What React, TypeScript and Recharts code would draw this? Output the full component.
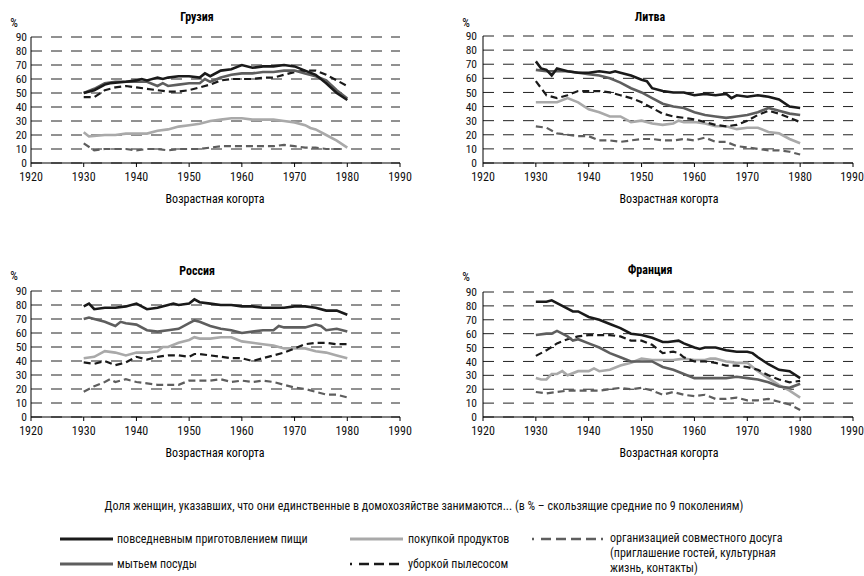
import React from "react";
import { CartesianGrid, Line, LineChart, XAxis, YAxis } from "recharts";

type Pt = [number, number];

const YEAR_TICKS = [1920, 1930, 1940, 1950, 1960, 1970, 1980, 1990];
const PCT_TICKS = [0, 10, 20, 30, 40, 50, 60, 70, 80, 90];

const SERIES_NAMES = [
  "повседневным приготовлением пищи",
  "мытьем посуды",
  "покупкой продуктов",
  "уборкой пылесосом",
  "организацией совместного досуга (приглашение гостей, культурная жизнь, контакты)",
];

// Грузия
const GEO_COOK: Pt[] = [[1930,50],[1932,52],[1934,56],[1935,57],[1938,58],[1940,59],[1941,60],[1942,59],[1944,61],[1945,60],[1946,61],[1948,62],[1950,62],[1952,61],[1953,64],[1954,62],[1956,66],[1958,67],[1960,70],[1962,68],[1964,69],[1966,69],[1968,70],[1970,69],[1972,66],[1974,63],[1976,57],[1978,50],[1980,45]];
const GEO_DISH: Pt[] = [[1930,50],[1932,53],[1934,57],[1936,58],[1938,58],[1940,58],[1942,58],[1944,55],[1945,57],[1946,55],[1948,56],[1950,57],[1952,57],[1953,60],[1954,58],[1956,61],[1958,63],[1960,64],[1962,64],[1964,65],[1966,65],[1968,66],[1970,66],[1972,64],[1974,62],[1976,59],[1978,52],[1980,46]];
const GEO_SHOP: Pt[] = [[1930,22],[1931,19],[1934,20],[1936,20],[1938,21],[1940,21],[1942,21],[1944,23],[1946,24],[1948,26],[1950,27],[1952,28],[1954,30],[1956,31],[1958,32],[1960,32],[1962,31],[1964,31],[1966,31],[1968,30],[1970,29],[1972,27],[1973,25],[1974,24],[1976,20],[1978,16],[1980,11]];
const GEO_VAC: Pt[] = [[1930,47],[1932,47],[1934,52],[1936,54],[1938,55],[1940,54],[1942,53],[1944,52],[1946,51],[1948,51],[1950,52],[1952,54],[1954,56],[1956,59],[1958,60],[1960,60],[1962,60],[1964,61],[1966,61],[1968,63],[1970,65],[1972,66],[1974,66],[1976,63],[1978,59],[1980,55]];
const GEO_LEIS: Pt[] = [[1930,14],[1932,9],[1934,10],[1936,10],[1938,10],[1940,9],[1942,10],[1944,10],[1946,9],[1948,10],[1950,10],[1952,10],[1954,11],[1956,12],[1958,12],[1960,12],[1962,12],[1964,12],[1966,12],[1968,13],[1970,12],[1972,11],[1974,11],[1976,10],[1979,10]];

// Литва
const LIT_COOK: Pt[] = [[1930,72],[1931,67],[1932,66],[1933,62],[1934,67],[1936,65],[1938,64],[1940,64],[1942,65],[1944,64],[1945,65],[1946,64],[1948,62],[1950,59],[1951,58],[1952,53],[1954,51],[1956,50],[1958,50],[1960,48],[1962,49],[1964,48],[1966,49],[1967,46],[1968,48],[1970,47],[1972,48],[1974,47],[1976,45],[1978,40],[1980,39]];
const LIT_DISH: Pt[] = [[1930,66],[1932,65],[1934,65],[1936,65],[1938,64],[1940,63],[1942,62],[1944,60],[1946,57],[1948,53],[1950,50],[1952,46],[1954,42],[1956,40],[1958,39],[1960,36],[1962,34],[1964,33],[1966,32],[1968,33],[1970,34],[1972,36],[1974,39],[1976,37],[1978,35],[1980,34]];
const LIT_SHOP: Pt[] = [[1930,43],[1932,43],[1934,43],[1936,46],[1938,43],[1940,38],[1942,36],[1944,33],[1946,33],[1948,29],[1950,30],[1952,28],[1954,27],[1956,28],[1957,30],[1958,29],[1960,29],[1962,28],[1964,26],[1966,26],[1968,24],[1970,25],[1972,25],[1974,22],[1976,21],[1978,17],[1980,14]];
const LIT_VAC: Pt[] = [[1930,58],[1932,48],[1934,46],[1936,48],[1938,51],[1940,51],[1942,51],[1944,50],[1946,48],[1948,46],[1950,43],[1952,39],[1954,35],[1956,33],[1958,32],[1960,31],[1962,29],[1964,27],[1966,26],[1968,27],[1970,30],[1972,34],[1974,37],[1976,35],[1978,32],[1980,29]];
const LIT_LEIS: Pt[] = [[1930,26],[1932,25],[1934,21],[1936,20],[1938,19],[1940,19],[1942,16],[1944,16],[1946,15],[1948,16],[1950,17],[1952,17],[1954,16],[1956,16],[1958,17],[1960,16],[1962,18],[1964,15],[1966,15],[1968,12],[1970,11],[1972,10],[1974,9],[1976,9],[1978,8],[1980,6]];

// Россия
const RUS_COOK: Pt[] = [[1930,79],[1931,81],[1932,77],[1934,78],[1936,78],[1938,79],[1940,81],[1942,77],[1944,78],[1946,80],[1947,81],[1948,80],[1950,81],[1951,84],[1952,82],[1954,81],[1956,80],[1958,80],[1960,79],[1962,79],[1964,78],[1966,78],[1968,78],[1970,79],[1972,79],[1974,78],[1976,76],[1978,76],[1980,73]];
const RUS_DISH: Pt[] = [[1930,70],[1931,71],[1932,70],[1934,68],[1936,65],[1937,68],[1938,67],[1940,66],[1942,62],[1944,61],[1946,62],[1948,63],[1950,67],[1951,69],[1952,68],[1954,65],[1956,63],[1958,62],[1960,60],[1962,61],[1964,62],[1966,62],[1967,65],[1968,64],[1970,64],[1972,64],[1974,66],[1975,65],[1976,62],[1978,63],[1980,61]];
const RUS_SHOP: Pt[] = [[1930,42],[1932,43],[1934,47],[1936,46],[1938,44],[1940,46],[1942,46],[1944,47],[1945,50],[1946,50],[1948,53],[1950,55],[1951,57],[1952,56],[1954,56],[1956,57],[1958,57],[1960,54],[1962,53],[1964,52],[1966,51],[1968,49],[1970,49],[1972,49],[1974,47],[1976,46],[1978,44],[1980,42]];
const RUS_VAC: Pt[] = [[1930,39],[1932,38],[1934,40],[1936,37],[1938,39],[1940,43],[1942,41],[1944,43],[1946,44],[1948,44],[1950,43],[1951,45],[1952,45],[1954,44],[1956,43],[1958,42],[1960,42],[1962,40],[1964,42],[1966,44],[1968,46],[1970,49],[1972,52],[1974,53],[1976,53],[1978,52],[1980,52]];
const RUS_LEIS: Pt[] = [[1930,18],[1932,22],[1934,25],[1935,27],[1936,25],[1938,27],[1940,25],[1942,24],[1944,23],[1946,23],[1948,23],[1950,26],[1952,26],[1954,26],[1956,27],[1958,25],[1960,26],[1962,25],[1964,26],[1966,25],[1968,23],[1970,21],[1972,20],[1974,18],[1976,16],[1978,16],[1980,14]];

// Франция
const FRA_COOK: Pt[] = [[1930,83],[1932,83],[1933,84],[1934,82],[1936,78],[1937,76],[1938,76],[1940,72],[1942,70],[1944,67],[1946,64],[1948,60],[1950,59],[1952,57],[1954,54],[1955,54],[1957,55],[1958,53],[1960,50],[1961,49],[1962,50],[1964,50],[1966,48],[1968,47],[1970,47],[1971,46],[1972,43],[1974,38],[1976,34],[1978,33],[1980,28]];
const FRA_DISH: Pt[] = [[1930,59],[1932,60],[1933,60],[1934,62],[1936,58],[1937,55],[1938,56],[1940,53],[1942,50],[1944,46],[1946,43],[1948,40],[1950,40],[1952,40],[1954,36],[1956,34],[1958,31],[1960,28],[1962,28],[1964,28],[1966,28],[1968,29],[1970,28],[1972,27],[1974,25],[1976,22],[1978,21],[1980,24]];
const FRA_SHOP: Pt[] = [[1930,28],[1931,27],[1932,27],[1933,31],[1934,31],[1935,33],[1936,30],[1938,33],[1940,33],[1941,35],[1942,33],[1944,34],[1946,37],[1948,39],[1950,42],[1952,41],[1954,41],[1956,41],[1958,42],[1960,41],[1962,41],[1963,42],[1964,42],[1966,40],[1968,39],[1970,39],[1972,33],[1974,28],[1976,23],[1978,19],[1980,14]];
const FRA_VAC: Pt[] = [[1930,44],[1932,48],[1934,53],[1936,56],[1938,58],[1940,59],[1942,59],[1944,59],[1946,58],[1948,55],[1950,55],[1952,52],[1954,46],[1956,47],[1957,46],[1958,43],[1960,40],[1962,40],[1964,39],[1966,37],[1968,37],[1970,36],[1972,34],[1974,30],[1976,27],[1978,25],[1980,26]];
const FRA_LEIS: Pt[] = [[1930,18],[1932,17],[1934,18],[1936,19],[1938,19],[1940,19],[1942,19],[1944,20],[1946,21],[1948,20],[1950,21],[1952,19],[1954,16],[1956,18],[1958,16],[1960,15],[1962,16],[1964,13],[1966,13],[1968,14],[1970,12],[1972,12],[1974,13],[1976,11],[1978,9],[1980,5]];

const FONT = "'Liberation Sans Narrow', 'Arial Narrow', 'Roboto Condensed', 'Liberation Sans', sans-serif";

// series styles: cooking, dishes, shopping, vacuum, leisure
const STYLES = [
  { color: "#1a1a1a", width: 2.6, dash: undefined as string | undefined },
  { color: "#5e5e5e", width: 2.6, dash: undefined as string | undefined },
  { color: "#a9a9a9", width: 2.6, dash: undefined as string | undefined },
  { color: "#1a1a1a", width: 2.2, dash: "7 4" },
  { color: "#5e5e5e", width: 2.2, dash: "7 4" },
];

const toRows = (pts: Pt[]) => pts.map(([year, v]) => ({ year, v }));

interface PanelProps {
  title: string;
  left: number;
  top: number;
  yAxisWidth: number;
  right: number;
  plotTop: number;
  bottom: number;
  tickGap: number;
  titleX: number;
  titleY: number;
  pctX: number;
  pctY: number;
  labelX: number;
  labelY: number;
  series: Pt[][]; // cooking, dishes, shopping, vacuum, leisure
}

function Panel(p: PanelProps) {
  const drawOrder = [4, 2, 3, 1, 0];
  return (
    <>
      <div
        style={{
          position: "absolute",
          left: p.titleX,
          top: p.titleY,
          transform: "translate(-50%, -50%)",
          fontFamily: FONT,
          fontWeight: "bold",
          fontSize: 12,
          whiteSpace: "nowrap",
        }}
      >
        {p.title}
      </div>
      <div
        style={{
          position: "absolute",
          left: p.pctX,
          top: p.pctY,
          transform: "translate(-50%, -50%)",
          fontFamily: FONT,
          fontSize: 12,
        }}
      >
        %
      </div>
      <div
        style={{
          position: "absolute",
          left: p.labelX,
          top: p.labelY,
          transform: "translate(-50%, -50%)",
          fontFamily: FONT,
          fontSize: 12,
          whiteSpace: "nowrap",
        }}
      >
        Возрастная когорта
      </div>
      <div style={{ position: "absolute", left: p.left, top: p.top }}>
        <LineChart
          width={432}
          height={210}
          margin={{ top: p.plotTop, right: p.right, left: 0, bottom: p.bottom }}
        >
          <CartesianGrid
            vertical={false}
            stroke="#222"
            strokeDasharray="11 9"
            strokeWidth={1}
          />
          <XAxis
            type="number"
            dataKey="year"
            domain={[1920, 1990]}
            ticks={YEAR_TICKS}
            allowDuplicatedCategory={false}
            height={20}
            stroke="#000"
            tickSize={4}
            tick={{ fill: "#111", fontSize: 12, fontFamily: FONT }}
            tickMargin={5}
          />
          <YAxis
            type="number"
            domain={[0, 90]}
            ticks={PCT_TICKS}
            width={p.yAxisWidth}
            stroke="#000"
            tickLine={false}
            tickSize={0}
            tickMargin={p.tickGap}
            tick={{ fill: "#111", fontSize: 11.5, fontFamily: FONT }}
            interval={0}
          />
          {drawOrder.map((i) => (
            <Line
              key={i}
              data={toRows(p.series[i])}
              dataKey="v"
              name={SERIES_NAMES[i]}
              type="linear"
              stroke={STYLES[i].color}
              strokeWidth={STYLES[i].width}
              strokeDasharray={STYLES[i].dash}
              dot={false}
              activeDot={false}
              isAnimationActive={false}
            />
          ))}
        </LineChart>
      </div>
    </>
  );
}

function LegendLine({ x, y, i, w }: { x: number; y: number; i: number; w: number }) {
  const s = STYLES[i];
  const dash = s.dash ? "2 7 10 5 10 5 10 5 10 5" : undefined;
  return (
    <svg
      style={{ position: "absolute", left: x, top: y - 4 }}
      width={w}
      height={8}
    >
      <line
        x1={0}
        y1={4}
        x2={w}
        y2={4}
        stroke={s.color}
        strokeWidth={s.dash ? 2.6 : 3}
        strokeDasharray={dash}
      />
    </svg>
  );
}

function LegendText({ x, y, children }: { x: number; y: number; children: React.ReactNode }) {
  return (
    <div
      style={{
        position: "absolute",
        left: x,
        top: y,
        transform: "translateY(-50%)",
        fontFamily: FONT,
        fontSize: 12,
        lineHeight: "15px",
        whiteSpace: "nowrap",
        color: "#111",
      }}
    >
      {children}
    </div>
  );
}

export default function App() {
  return (
    <div
      style={{
        position: "absolute",
        left: 0,
        top: 0,
        width: 864,
        height: 576,
        background: "#fff",
        overflow: "hidden",
      }}
    >
      <Panel
        title="Грузия"
        left={0}
        top={0}
        yAxisWidth={31}
        right={32}
        plotTop={37}
        bottom={27}
        tickGap={4}
        titleX={197}
        titleY={17}
        pctX={14}
        pctY={23}
        labelX={215}
        labelY={199}
        series={[GEO_COOK, GEO_DISH, GEO_SHOP, GEO_VAC, GEO_LEIS]}
      />
      <Panel
        title="Литва"
        left={432}
        top={0}
        yAxisWidth={51}
        right={11}
        plotTop={36}
        bottom={27}
        tickGap={6}
        titleX={650}
        titleY={17}
        pctX={466}
        pctY={23}
        labelX={669}
        labelY={199}
        series={[LIT_COOK, LIT_DISH, LIT_SHOP, LIT_VAC, LIT_LEIS]}
      />
      <Panel
        title="Россия"
        left={0}
        top={260}
        yAxisWidth={31}
        right={32}
        plotTop={31}
        bottom={33}
        tickGap={4}
        titleX={197}
        titleY={271}
        pctX={14}
        pctY={276}
        labelX={215}
        labelY={453}
        series={[RUS_COOK, RUS_DISH, RUS_SHOP, RUS_VAC, RUS_LEIS]}
      />
      <Panel
        title="Франция"
        left={432}
        top={260}
        yAxisWidth={51}
        right={11}
        plotTop={32}
        bottom={33}
        tickGap={6}
        titleX={650}
        titleY={270}
        pctX={466}
        pctY={277}
        labelX={669}
        labelY={453}
        series={[FRA_COOK, FRA_DISH, FRA_SHOP, FRA_VAC, FRA_LEIS]}
      />

      <div
        style={{
          position: "absolute",
          left: 424,
          top: 506,
          transform: "translate(-50%, -50%)",
          fontFamily: FONT,
          fontSize: 12,
          whiteSpace: "nowrap",
          color: "#111",
        }}
      >
        Доля женщин, указавших, что они единственные в домохозяйстве занимаются... (в % – скользящие средние по 9 поколениям)
      </div>

      <LegendLine x={60} y={539} i={0} w={53} />
      <LegendText x={117} y={539}>{SERIES_NAMES[0]}</LegendText>
      <LegendLine x={60} y={564} i={1} w={53} />
      <LegendText x={117} y={564}>{SERIES_NAMES[1]}</LegendText>
      <LegendLine x={350} y={539} i={2} w={53} />
      <LegendText x={408} y={539}>{SERIES_NAMES[2]}</LegendText>
      <LegendLine x={350} y={564} i={3} w={53} />
      <LegendText x={408} y={564}>{SERIES_NAMES[3]}</LegendText>
      <LegendLine x={532} y={539} i={4} w={73} />
      <LegendText x={610} y={553}>
        организацией совместного досуга
        <br />
        (приглашение гостей, культурная
        <br />
        жизнь, контакты)
      </LegendText>
    </div>
  );
}
